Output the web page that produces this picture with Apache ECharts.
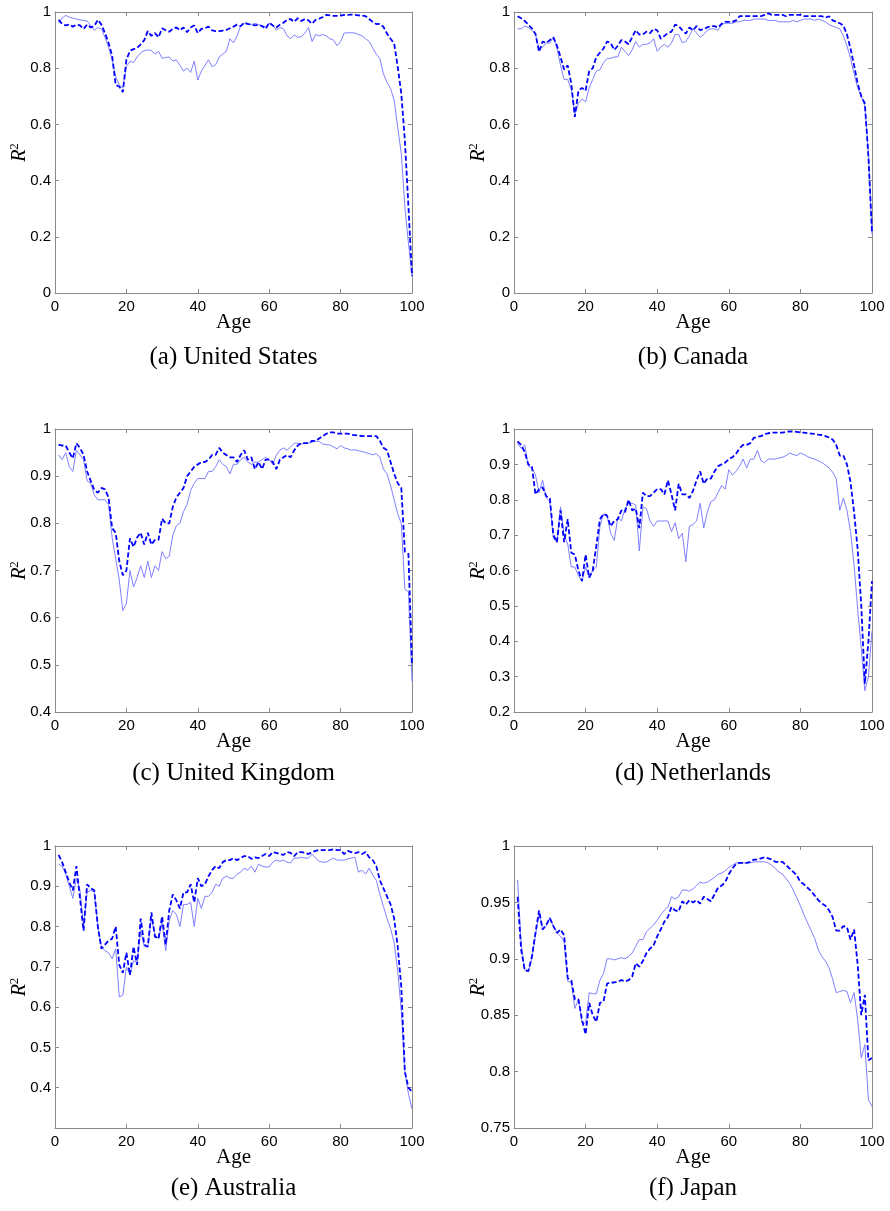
<!DOCTYPE html>
<html>
<head>
<meta charset="utf-8">
<script src="https://cdn.jsdelivr.net/npm/echarts@6/dist/echarts.min.js"></script>
<style>
html, body { margin: 0; padding: 0; background: #fff; }
#main { width: 890px; height: 1211px; }
</style>
</head>
<body>
<div id="main"></div>
<script>
// ages 1..100 on the x axis
var ages = [];
for (var a = 1; a <= 100; a++) ages.push(a);

// (a) United States
var usDashed = [0.972, 0.958, 0.952, 0.955, 0.948, 0.955, 0.952, 0.94, 0.955, 0.945,
    0.95, 0.972, 0.955, 0.925, 0.89, 0.845, 0.74, 0.735, 0.715, 0.83,
    0.862, 0.868, 0.872, 0.885, 0.9, 0.932, 0.915, 0.925, 0.91, 0.942,
    0.935, 0.93, 0.94, 0.945, 0.935, 0.945, 0.928, 0.945, 0.952, 0.925,
    0.94, 0.942, 0.948, 0.935, 0.932, 0.932, 0.934, 0.936, 0.942, 0.948,
    0.955, 0.95, 0.962, 0.958, 0.955, 0.952, 0.955, 0.95, 0.94, 0.962,
    0.952, 0.945, 0.955, 0.962, 0.972, 0.975, 0.965, 0.978, 0.968, 0.975,
    0.97, 0.958, 0.972, 0.976, 0.982, 0.99, 0.988, 0.986, 0.986, 0.987,
    0.99, 0.99, 0.991, 0.99, 0.988, 0.987, 0.985, 0.975, 0.965, 0.957,
    0.958, 0.947, 0.923, 0.905, 0.888, 0.805, 0.71, 0.544, 0.308, 0.06];
var usSolid = [0.96, 0.978, 0.988, 0.982, 0.978, 0.975, 0.972, 0.97, 0.968, 0.952,
    0.935, 0.945, 0.94, 0.91, 0.875, 0.83, 0.77, 0.74, 0.73, 0.805,
    0.825, 0.82, 0.84, 0.855, 0.862, 0.865, 0.863, 0.85, 0.86, 0.835,
    0.838, 0.84, 0.825, 0.83, 0.81, 0.79, 0.8, 0.785, 0.825, 0.758,
    0.79, 0.81, 0.83, 0.805, 0.812, 0.84, 0.85, 0.86, 0.905, 0.89,
    0.915, 0.95, 0.96, 0.955, 0.955, 0.96, 0.955, 0.95, 0.948, 0.96,
    0.955, 0.935, 0.945, 0.94, 0.915, 0.905, 0.918, 0.91, 0.912, 0.925,
    0.945, 0.895, 0.92, 0.915, 0.92, 0.915, 0.905, 0.9, 0.88, 0.895,
    0.925, 0.926, 0.926, 0.925, 0.92, 0.915, 0.905, 0.895, 0.872, 0.85,
    0.834, 0.78, 0.75, 0.728, 0.686, 0.59, 0.497, 0.307, 0.177, 0.06];

// (b) Canada
var caDashed = [0.985, 0.978, 0.968, 0.955, 0.942, 0.922, 0.858, 0.895, 0.89, 0.9,
    0.91, 0.88, 0.84, 0.795, 0.81, 0.745, 0.627, 0.72, 0.73, 0.72,
    0.79, 0.8, 0.84, 0.855, 0.87, 0.895, 0.89, 0.865, 0.88, 0.9,
    0.895, 0.885, 0.91, 0.935, 0.92, 0.92, 0.93, 0.925, 0.94, 0.935,
    0.905, 0.915, 0.925, 0.93, 0.955, 0.95, 0.935, 0.923, 0.945, 0.935,
    0.95, 0.935, 0.94, 0.945, 0.95, 0.95, 0.945, 0.958, 0.965, 0.965,
    0.965, 0.97, 0.985, 0.985, 0.985, 0.985, 0.985, 0.985, 0.985, 0.99,
    0.995, 0.99, 0.99, 0.99, 0.99, 0.985, 0.99, 0.99, 0.99, 0.99,
    0.985, 0.985, 0.985, 0.985, 0.985, 0.985, 0.98, 0.985, 0.97, 0.965,
    0.96, 0.952, 0.92, 0.87, 0.81, 0.745, 0.7, 0.675, 0.485, 0.213];
var caSolid = [0.94, 0.94, 0.95, 0.945, 0.935, 0.92, 0.87, 0.875, 0.89, 0.89,
    0.91, 0.87, 0.81, 0.76, 0.76, 0.725, 0.64, 0.675, 0.69, 0.68,
    0.73, 0.76, 0.79, 0.795, 0.82, 0.835, 0.835, 0.84, 0.84, 0.875,
    0.86, 0.845, 0.865, 0.895, 0.875, 0.885, 0.885, 0.89, 0.905, 0.86,
    0.875, 0.885, 0.875, 0.89, 0.92, 0.92, 0.89, 0.895, 0.915, 0.94,
    0.925, 0.91, 0.92, 0.935, 0.94, 0.94, 0.935, 0.955, 0.96, 0.96,
    0.96, 0.965, 0.965, 0.97, 0.97, 0.97, 0.975, 0.975, 0.975, 0.975,
    0.97, 0.97, 0.97, 0.965, 0.965, 0.965, 0.965, 0.97, 0.965, 0.97,
    0.975, 0.975, 0.975, 0.97, 0.975, 0.97, 0.965, 0.955, 0.95, 0.945,
    0.94, 0.915, 0.88, 0.835, 0.78, 0.73, 0.7, 0.665, 0.5, 0.21];

// (c) United Kingdom
var ukDashed = [0.967, 0.965, 0.965, 0.95, 0.938, 0.97, 0.96, 0.945, 0.91, 0.89,
    0.871, 0.865, 0.875, 0.872, 0.855, 0.79, 0.78, 0.72, 0.69, 0.7,
    0.768, 0.75, 0.77, 0.78, 0.755, 0.78, 0.755, 0.765, 0.765, 0.81,
    0.8, 0.8, 0.835, 0.855, 0.865, 0.875, 0.9, 0.91, 0.92, 0.925,
    0.93, 0.93, 0.935, 0.945, 0.945, 0.96, 0.95, 0.945, 0.94, 0.94,
    0.93, 0.945, 0.955, 0.935, 0.94, 0.915, 0.93, 0.915, 0.935, 0.935,
    0.93, 0.915, 0.935, 0.94, 0.945, 0.94, 0.955, 0.965, 0.97, 0.97,
    0.97, 0.975, 0.975, 0.98, 0.985, 0.99, 0.993, 0.993, 0.99, 0.99,
    0.99, 0.99, 0.988, 0.987, 0.986, 0.985, 0.985, 0.985, 0.985, 0.985,
    0.975, 0.96, 0.955, 0.93, 0.905, 0.885, 0.875, 0.74, 0.735, 0.5];
var ukSolid = [0.945, 0.935, 0.95, 0.92, 0.91, 0.955, 0.945, 0.935, 0.89, 0.885,
    0.86, 0.85, 0.85, 0.85, 0.84, 0.77, 0.725, 0.68, 0.615, 0.63,
    0.7, 0.665, 0.685, 0.71, 0.685, 0.72, 0.685, 0.71, 0.7, 0.74,
    0.725, 0.73, 0.775, 0.795, 0.8, 0.825, 0.84, 0.87, 0.885, 0.895,
    0.895, 0.895, 0.91, 0.91, 0.92, 0.935, 0.925, 0.92, 0.905, 0.925,
    0.925, 0.935, 0.94, 0.93, 0.925, 0.93, 0.93, 0.935, 0.94, 0.935,
    0.925, 0.945, 0.955, 0.96, 0.955, 0.962, 0.97, 0.97, 0.968, 0.97,
    0.97, 0.972, 0.974, 0.974, 0.968, 0.967, 0.966, 0.962, 0.958, 0.965,
    0.96, 0.958, 0.955, 0.956, 0.954, 0.952, 0.95, 0.948, 0.945, 0.948,
    0.94, 0.915, 0.905, 0.88, 0.85, 0.82, 0.8, 0.66, 0.655, 0.465];

// (d) Netherlands
var nlDashed = [0.965, 0.955, 0.935, 0.9, 0.895, 0.815, 0.83, 0.835, 0.81, 0.805,
    0.7, 0.68, 0.77, 0.68, 0.745, 0.65, 0.645, 0.6, 0.57, 0.645,
    0.58, 0.6, 0.67, 0.745, 0.76, 0.755, 0.725, 0.74, 0.745, 0.77,
    0.765, 0.8, 0.77, 0.775, 0.72, 0.82, 0.81, 0.81, 0.82, 0.83,
    0.83, 0.815, 0.855, 0.815, 0.77, 0.845, 0.815, 0.815, 0.805, 0.825,
    0.855, 0.88, 0.845, 0.86, 0.86, 0.88, 0.895, 0.9, 0.905, 0.915,
    0.92, 0.93, 0.945, 0.955, 0.955, 0.96, 0.975, 0.978, 0.98, 0.985,
    0.988, 0.99, 0.99, 0.99, 0.99, 0.992, 0.993, 0.993, 0.992, 0.99,
    0.99, 0.988, 0.987, 0.986, 0.984, 0.983, 0.98, 0.976, 0.97, 0.955,
    0.925, 0.925, 0.9, 0.85, 0.765, 0.66, 0.5, 0.28, 0.4, 0.57];
var nlSolid = [0.96, 0.945, 0.955, 0.895, 0.89, 0.87, 0.82, 0.855, 0.805, 0.795,
    0.69, 0.68, 0.78, 0.7, 0.675, 0.61, 0.61, 0.585, 0.57, 0.61,
    0.58, 0.6, 0.61, 0.725, 0.76, 0.755, 0.705, 0.685, 0.75, 0.74,
    0.775, 0.79, 0.79, 0.785, 0.655, 0.78, 0.775, 0.74, 0.725, 0.74,
    0.74, 0.74, 0.74, 0.71, 0.735, 0.69, 0.705, 0.625, 0.725, 0.73,
    0.74, 0.79, 0.72, 0.765, 0.795, 0.8, 0.82, 0.84, 0.83, 0.885,
    0.87, 0.88, 0.895, 0.915, 0.89, 0.915, 0.915, 0.94, 0.91, 0.905,
    0.915, 0.915, 0.915, 0.918, 0.92, 0.925, 0.932, 0.928, 0.925, 0.932,
    0.928, 0.922, 0.918, 0.915, 0.91, 0.905, 0.898, 0.89, 0.878, 0.86,
    0.77, 0.805, 0.77, 0.71, 0.615, 0.49, 0.38, 0.26, 0.3, 0.43];

// (e) Australia
var auDashed = [0.978, 0.96, 0.935, 0.91, 0.89, 0.95, 0.87, 0.79, 0.905, 0.895,
    0.89, 0.8, 0.745, 0.755, 0.765, 0.77, 0.8, 0.705, 0.685, 0.735,
    0.68, 0.75, 0.705, 0.82, 0.755, 0.75, 0.835, 0.775, 0.77, 0.825,
    0.755, 0.84, 0.88, 0.865, 0.845, 0.885, 0.885, 0.905, 0.86, 0.92,
    0.9, 0.905, 0.925, 0.94, 0.95, 0.945, 0.96, 0.965, 0.965, 0.97,
    0.965, 0.97, 0.975, 0.975, 0.968, 0.972, 0.97, 0.975, 0.98, 0.975,
    0.985, 0.983, 0.98, 0.978, 0.985, 0.983, 0.975, 0.985, 0.985, 0.983,
    0.98, 0.985, 0.988, 0.99, 0.99, 0.99, 0.99, 0.992, 0.99, 0.99,
    0.98, 0.988, 0.985, 0.982, 0.985, 0.98, 0.985, 0.972, 0.965, 0.95,
    0.915, 0.895, 0.875, 0.855, 0.82, 0.75, 0.65, 0.44, 0.4, 0.39];
var auSolid = [0.955, 0.95, 0.93, 0.9, 0.87, 0.92, 0.89, 0.8, 0.885, 0.89,
    0.885, 0.8, 0.75, 0.74, 0.735, 0.72, 0.745, 0.625, 0.63, 0.7,
    0.68, 0.715, 0.71, 0.79, 0.75, 0.75, 0.82, 0.78, 0.77, 0.81,
    0.74, 0.815, 0.84, 0.83, 0.8, 0.855, 0.855, 0.86, 0.8, 0.87,
    0.845, 0.875, 0.875, 0.885, 0.905, 0.9, 0.92, 0.925, 0.92, 0.92,
    0.93, 0.935, 0.945, 0.94, 0.95, 0.935, 0.955, 0.95, 0.948, 0.948,
    0.96, 0.965, 0.962, 0.965, 0.96, 0.958, 0.97, 0.97, 0.972, 0.97,
    0.97, 0.98, 0.97, 0.962, 0.96, 0.96, 0.965, 0.97, 0.965, 0.965,
    0.965, 0.968, 0.97, 0.972, 0.935, 0.94, 0.93, 0.945, 0.928, 0.915,
    0.88, 0.85, 0.82, 0.795, 0.76, 0.69, 0.59, 0.44, 0.385, 0.347];

// (f) Japan
var jpDashed = [0.955, 0.908, 0.89, 0.889, 0.902, 0.923, 0.943, 0.926, 0.93, 0.936,
    0.929, 0.923, 0.926, 0.921, 0.883, 0.881, 0.864, 0.864, 0.846, 0.833,
    0.861, 0.85, 0.844, 0.861, 0.862, 0.878, 0.879, 0.879, 0.88, 0.881,
    0.88, 0.881, 0.884, 0.896, 0.893, 0.898, 0.905, 0.909, 0.912, 0.92,
    0.926, 0.933, 0.937, 0.946, 0.943, 0.942, 0.951, 0.948, 0.952, 0.95,
    0.952, 0.949, 0.955, 0.953, 0.951, 0.957, 0.963, 0.965, 0.968, 0.975,
    0.98, 0.984, 0.985, 0.985, 0.985, 0.986, 0.988, 0.988, 0.989, 0.99,
    0.989, 0.988, 0.986, 0.986, 0.986, 0.983, 0.98, 0.977, 0.974, 0.968,
    0.966, 0.963, 0.96, 0.956, 0.952, 0.949, 0.947, 0.943, 0.937, 0.925,
    0.925, 0.929, 0.928, 0.917, 0.926, 0.895, 0.85, 0.868, 0.81, 0.812];
var jpSolid = [0.97, 0.914, 0.89, 0.889, 0.9, 0.921, 0.94, 0.926, 0.929, 0.937,
    0.929, 0.923, 0.92, 0.915, 0.88, 0.879, 0.856, 0.864, 0.843, 0.843,
    0.87, 0.869, 0.869, 0.881, 0.887, 0.9, 0.9, 0.899, 0.9, 0.901,
    0.9, 0.902, 0.905, 0.911, 0.917, 0.917, 0.924, 0.927, 0.93, 0.934,
    0.939, 0.943, 0.946, 0.955, 0.953, 0.955, 0.961, 0.961, 0.96, 0.962,
    0.965, 0.968, 0.967, 0.968, 0.97, 0.972, 0.975, 0.976, 0.978, 0.981,
    0.983, 0.985, 0.985, 0.985, 0.985, 0.985, 0.986, 0.986, 0.986, 0.986,
    0.985, 0.983, 0.98, 0.977, 0.975, 0.971, 0.967, 0.961, 0.954, 0.947,
    0.939, 0.932, 0.925, 0.918, 0.908, 0.902, 0.898, 0.892, 0.882, 0.87,
    0.871, 0.872, 0.871, 0.861, 0.87, 0.846, 0.812, 0.824, 0.775, 0.769];

var captions = ['(a) United States', '(b) Canada', '(c) United Kingdom',
    '(d) Netherlands', '(e) Australia', '(f) Japan'];
var dashedSets = [usDashed, caDashed, ukDashed, nlDashed, auDashed, jpDashed];
var solidSets = [usSolid, caSolid, ukSolid, nlSolid, auSolid, jpSolid];
var yMin = [0, 0, 0.4, 0.2, 0.3, 0.75];
var yStep = [0.2, 0.2, 0.1, 0.1, 0.1, 0.05];
var xMin = 0, xMax = 100, xStep = 20;

// panel boxes, in pixels
var boxes = [
    {left: 55, top: 12, width: 357, height: 281},
    {left: 514, top: 12, width: 358, height: 281},
    {left: 55, top: 429, width: 357, height: 283},
    {left: 514, top: 429, width: 358, height: 283},
    {left: 55, top: 846, width: 357, height: 282},
    {left: 514, top: 846, width: 358, height: 282}
];
var captionY = [357, 357, 773, 773, 1188, 1188];

var axisGray = '#8a8a8a';
var sans = '"Liberation Sans", Arial, sans-serif';
var serif = '"Liberation Serif", "Times New Roman", serif';

function pairs(vals) {
    return ages.map(function (a, i) { return [a, vals[i]]; });
}

var chart = echarts.init(document.getElementById('main'), null, {renderer: 'canvas'});

var grids = [], xAxes = [], yAxes = [], series = [], graphics = [];

boxes.forEach(function (b, i) {
    grids.push({left: b.left, top: b.top, width: b.width, height: b.height, containLabel: false});

    var tick = {show: true, inside: true, length: 4, lineStyle: {color: axisGray, width: 1}};
    var line = {show: true, onZero: false, lineStyle: {color: axisGray, width: 1}};

    xAxes.push({
        type: 'value', gridIndex: i, position: 'bottom', min: xMin, max: xMax, interval: xStep,
        axisLine: line, axisTick: tick, splitLine: {show: false},
        axisLabel: {color: '#000', fontFamily: sans, fontSize: 15, margin: 6},
        name: 'Age', nameLocation: 'middle', nameGap: 19, nameMoveOverlap: false,
        nameTextStyle: {color: '#000', fontFamily: serif, fontSize: 21}
    });
    xAxes.push({
        type: 'value', gridIndex: i, position: 'top', min: xMin, max: xMax, interval: xStep,
        axisLine: line, axisTick: tick, splitLine: {show: false}, axisLabel: {show: false}
    });

    yAxes.push({
        type: 'value', gridIndex: i, position: 'left', min: yMin[i], max: 1, interval: yStep[i],
        axisLine: line, axisTick: tick, splitLine: {show: false},
        axisLabel: {color: '#000', fontFamily: sans, fontSize: 15, margin: 4, showMinLabel: i !== 4},
        name: '{r|R}{s|2}', nameLocation: 'middle', nameGap: 25, nameRotate: 90, nameMoveOverlap: false,
        nameTextStyle: {
            color: '#000',
            rich: {
                r: {fontFamily: serif, fontStyle: 'italic', fontSize: 20, lineHeight: 22, verticalAlign: 'bottom', color: '#000'},
                s: {fontFamily: serif, fontSize: 13, lineHeight: 14, verticalAlign: 'top', color: '#000'}
            }
        }
    });
    yAxes.push({
        type: 'value', gridIndex: i, position: 'right', min: yMin[i], max: 1, interval: yStep[i],
        axisLine: line, axisTick: tick, splitLine: {show: false}, axisLabel: {show: false}
    });

    series.push({
        type: 'line', xAxisIndex: 2 * i, yAxisIndex: 2 * i, data: pairs(solidSets[i]),
        symbol: 'none', silent: true,
        lineStyle: {color: '#8080ff', width: 1}
    });
    series.push({
        type: 'line', xAxisIndex: 2 * i, yAxisIndex: 2 * i, data: pairs(dashedSets[i]),
        symbol: 'none', silent: true,
        lineStyle: {color: '#0000ff', width: 1.8, type: [5, 2.5]}
    });

    graphics.push({
        type: 'text', x: b.left + b.width / 2, y: captionY[i],
        style: {
            text: captions[i], fill: '#000', font: '25px ' + serif,
            align: 'center', verticalAlign: 'middle',
            textAlign: 'center', textVerticalAlign: 'middle'
        }
    });
});

chart.setOption({
    animation: false,
    backgroundColor: '#fff',
    grid: grids,
    xAxis: xAxes,
    yAxis: yAxes,
    series: series,
    graphic: graphics
});
</script>
</body>
</html>
